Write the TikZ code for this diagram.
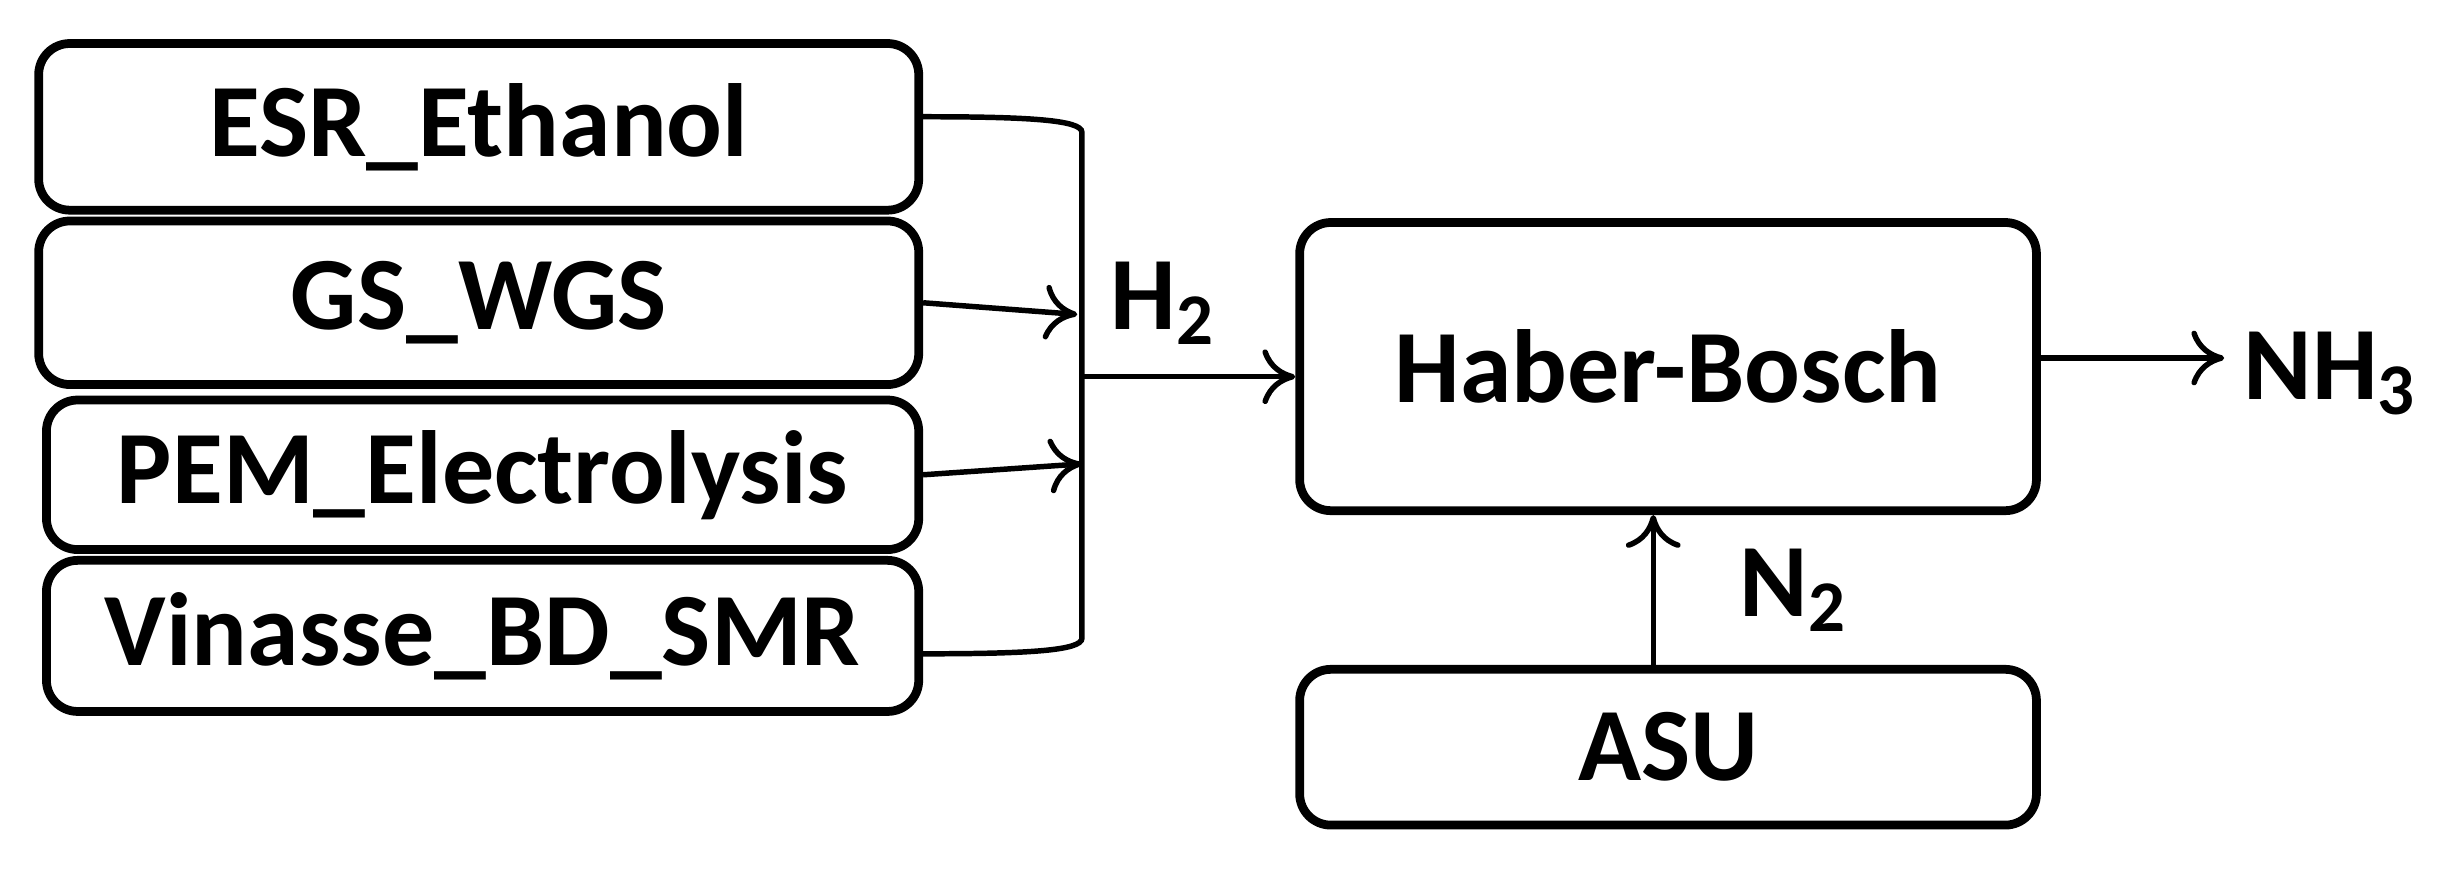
\documentclass[tikz,border=0pt]{standalone}
\usepackage{fontspec}
\setmainfont{Carlito}
\usetikzlibrary{arrows.meta}
\begin{document}
\begin{tikzpicture}[x=0.01cm,y=-0.01cm,
  box/.style={draw,line width=1.6pt,rounded corners=0.2cm,font=\fontsize{19}{22}\bfseries\selectfont,inner sep=0pt},
  lbl/.style={font=\fontsize{19}{22}\bfseries\selectfont},
  arr/.style={line width=1pt,-{To[length=6pt,width=10pt]}}]
\useasboundingbox (0,0) rectangle (1568,562);
\node[box,minimum width=565\pgflinewidth*0+5.65cm,minimum height=1.07cm] (esr) at (307.5,81.5) {ESR\_Ethanol};
\node[box,minimum width=5.65cm,minimum height=1.05cm] (gs) at (307.5,194.5) {GS\_WGS};
\node[box,minimum width=5.6cm,minimum height=0.96cm] (pem) at (310,305) {PEM\_Electrolysis};
\node[box,minimum width=5.6cm,minimum height=0.97cm] (vin) at (310,408.5) {Vinasse\_BD\_SMR};
\node[box,minimum width=4.73cm,minimum height=1.85cm] (hb) at (1071.5,235.5) {Haber-Bosch};
\node[box,minimum width=4.73cm,minimum height=1.0cm] (asu) at (1071.5,480) {ASU};
\coordinate (t) at (695,85);
\coordinate (b) at (695,410);
\coordinate (m) at (695,242);
\draw[line width=1pt] (esr.east|-0,75) .. controls (660,75) and (695,77) .. (t) -- (b) .. controls (695,418) and (660,420) .. (vin.east|-0,420);
\draw[arr] (gs.east) -- (692,202);
\draw[arr] (pem.east) -- (695,298);
\draw[arr] (m) -- (hb.west|-m) node[lbl,pos=0.38,above=2pt] {H$_\mathbf{2}$};
\node[lbl] (nh3) at (1497,240) {NH$_\mathbf{3}$};
\draw[arr] (hb.east|-0,230) -- (nh3.west|-0,230);
\draw[arr] (asu.north-|1062,0) -- (hb.south-|1062,0) node[lbl,midway,right=12pt] {N$_\mathbf{2}$};
\end{tikzpicture}
\end{document}
